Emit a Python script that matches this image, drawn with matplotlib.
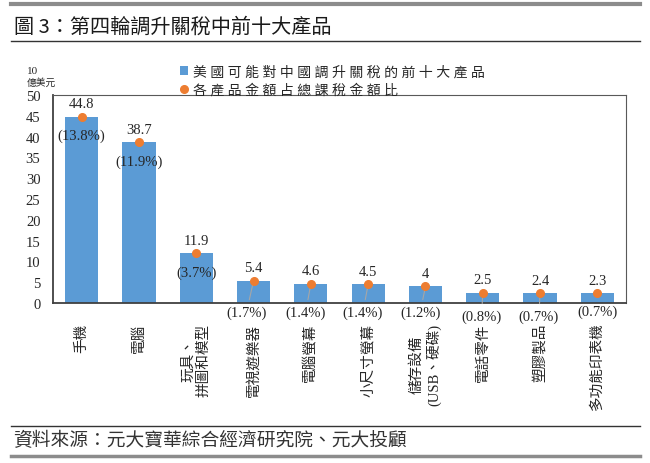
import matplotlib
matplotlib.use("Agg")
import matplotlib.pyplot as plt
from matplotlib.lines import Line2D

# ---------------- data ----------------
categories = ["手機", "電腦", "玩具、\n拼圖和模型", "電視遊樂器", "電腦螢幕",
              "小尺寸螢幕", "儲存設備\n(USB、硬碟)", "電話零件", "塑膠製品", "多功能印表機"]
values = [44.8, 38.7, 11.9, 5.4, 4.6, 4.5, 4.0, 2.5, 2.4, 2.3]
shares = [13.8, 11.9, 3.7, 1.7, 1.4, 1.4, 1.2, 0.8, 0.7, 0.7]
yticks = [0, 5, 10, 15, 20, 25, 30, 35, 40, 45, 50]

series_bar = "美國可能對中國調升關稅的前十大產品"
series_dot = "各產品金額占總課稅金額比"
title = "圖 3：第四輪調升關稅中前十大產品"
source = "資料來源：元大寶華綜合經濟研究院、元大投顧"
unit_num = "10"
unit_txt = "億美元"

# ---------------- style ----------------
BLUE = "#5B9BD5"
ORANGE = "#ED7D31"
TXT = "#262626"
MIX = ["Liberation Serif", "Noto Sans CJK TC"]
CJK = ["Noto Sans CJK TC", "DejaVu Sans"]

W, H = 650, 464
fig = plt.figure(figsize=(W / 100, H / 100), dpi=100)

def fx(px):
    return px / W

def fy(py):
    return 1 - py / H

ax = fig.add_axes([fx(53), fy(304), fx(626) - fx(53), fy(96) - fy(304)])

x = list(range(len(categories)))
bars = ax.bar(x, values, width=0.58, color=BLUE, zorder=2, label=series_bar)
dots, = ax.plot(x, values, linestyle="none", marker="o", markersize=5.5,
                color=ORANGE, zorder=4, label=series_dot)

ax.set_xlim(-0.5, len(categories) - 0.5)
ax.set_ylim(0, 50)
ax.set_yticks(yticks)
ax.set_yticklabels([str(t) for t in yticks], family=MIX, fontsize=10.5, color=TXT)
ax.set_xticks(x)
ax.set_xticklabels(categories, rotation=90, family=MIX, fontsize=10.5,
                   color=TXT, multialignment="center", va="top", ha="center")
ax.tick_params(axis="x", length=0, pad=14)
ax.tick_params(axis="y", length=0, pad=9)

for s in ["top", "right"]:
    ax.spines[s].set_color("#595959")
    ax.spines[s].set_linewidth(0.8)
for s in ["left", "bottom"]:
    ax.spines[s].set_color("#404040")
    ax.spines[s].set_linewidth(1.3)

# value labels above bars
for i, v in enumerate(values):
    ax.annotate(f"{v:g}", xy=(i, v), xytext=(0, 13), textcoords="offset pixels",
                ha="center", va="center", family=MIX, fontsize=10.5, color=TXT,
                zorder=5)

# share labels: inside for tall bars, below axis with leader lines for short ones
label_y_below = [None, None, None, -2.15, -2.15, -2.15, -2.15, -3.1, -3.1, -1.95]
label_dx = [0, 0, 0, -0.12, -0.09, -0.09, -0.09, -0.02, -0.02, 0.0]
for i, (v, s) in enumerate(zip(values, shares)):
    txt = f"({s:.1f}%)"
    if label_y_below[i] is None:
        ax.annotate(txt, xy=(i, v), xytext=(0, -19), textcoords="offset pixels",
                    ha="center", va="center", family=MIX, fontsize=10.5,
                    color=TXT, zorder=5)
    else:
        props = None
        if label_dx[i] != 0:
            props = dict(arrowstyle="-", color="#A6A6A6", lw=0.8,
                         shrinkA=2, shrinkB=0)
        ax.annotate(txt, xy=(i, v), xytext=(i + label_dx[i], label_y_below[i]),
                    textcoords="data", ha="center", va="center", family=MIX,
                    fontsize=10.5, color=TXT, arrowprops=props,
                    annotation_clip=False, zorder=3)

# legend
def spaced(s):
    return " ".join(s)

leg = fig.legend([bars, dots], [spaced(series_bar), spaced(series_dot)],
                 loc="upper left", bbox_to_anchor=(fx(180), fy(66)),
                 frameon=False, prop={"family": MIX, "size": 10},
                 handlelength=0.55, handleheight=0.55, handletextpad=0.4,
                 labelspacing=0.3, borderpad=0, borderaxespad=0)
for t in leg.get_texts():
    t.set_color(TXT)

# unit label
fig.text(fx(27), fy(72), unit_num, family=MIX, fontsize=8, color=TXT,
         ha="left", va="center")
fig.text(fx(27), fy(83), unit_txt, family=CJK, fontsize=7, color=TXT,
         ha="left", va="center")

# title & decorations
fig.add_artist(Line2D([fx(11), fx(640)], [fy(5.3), fy(5.3)], color="#8C8C8C",
                      lw=3.0, transform=fig.transFigure))
fig.text(fx(14), fy(27), title, family=CJK, fontsize=14.5, color="#1a1a1a",
         ha="left", va="center")
fig.add_artist(Line2D([fx(11), fx(640)], [fy(41.7), fy(41.7)], color="#333333",
                      lw=1.0, transform=fig.transFigure))

fig.add_artist(Line2D([fx(11), fx(640)], [fy(426.5), fy(426.5)], color="#333333",
                      lw=1.0, transform=fig.transFigure))
fig.text(fx(13), fy(441), source, family=CJK, fontsize=13.5, style="italic",
         color="#333333", ha="left", va="center")
fig.add_artist(Line2D([fx(11), fx(640)], [fy(456.5), fy(456.5)], color="#8C8C8C",
                      lw=2.5, transform=fig.transFigure))

fig.savefig("out.png", dpi=100)
